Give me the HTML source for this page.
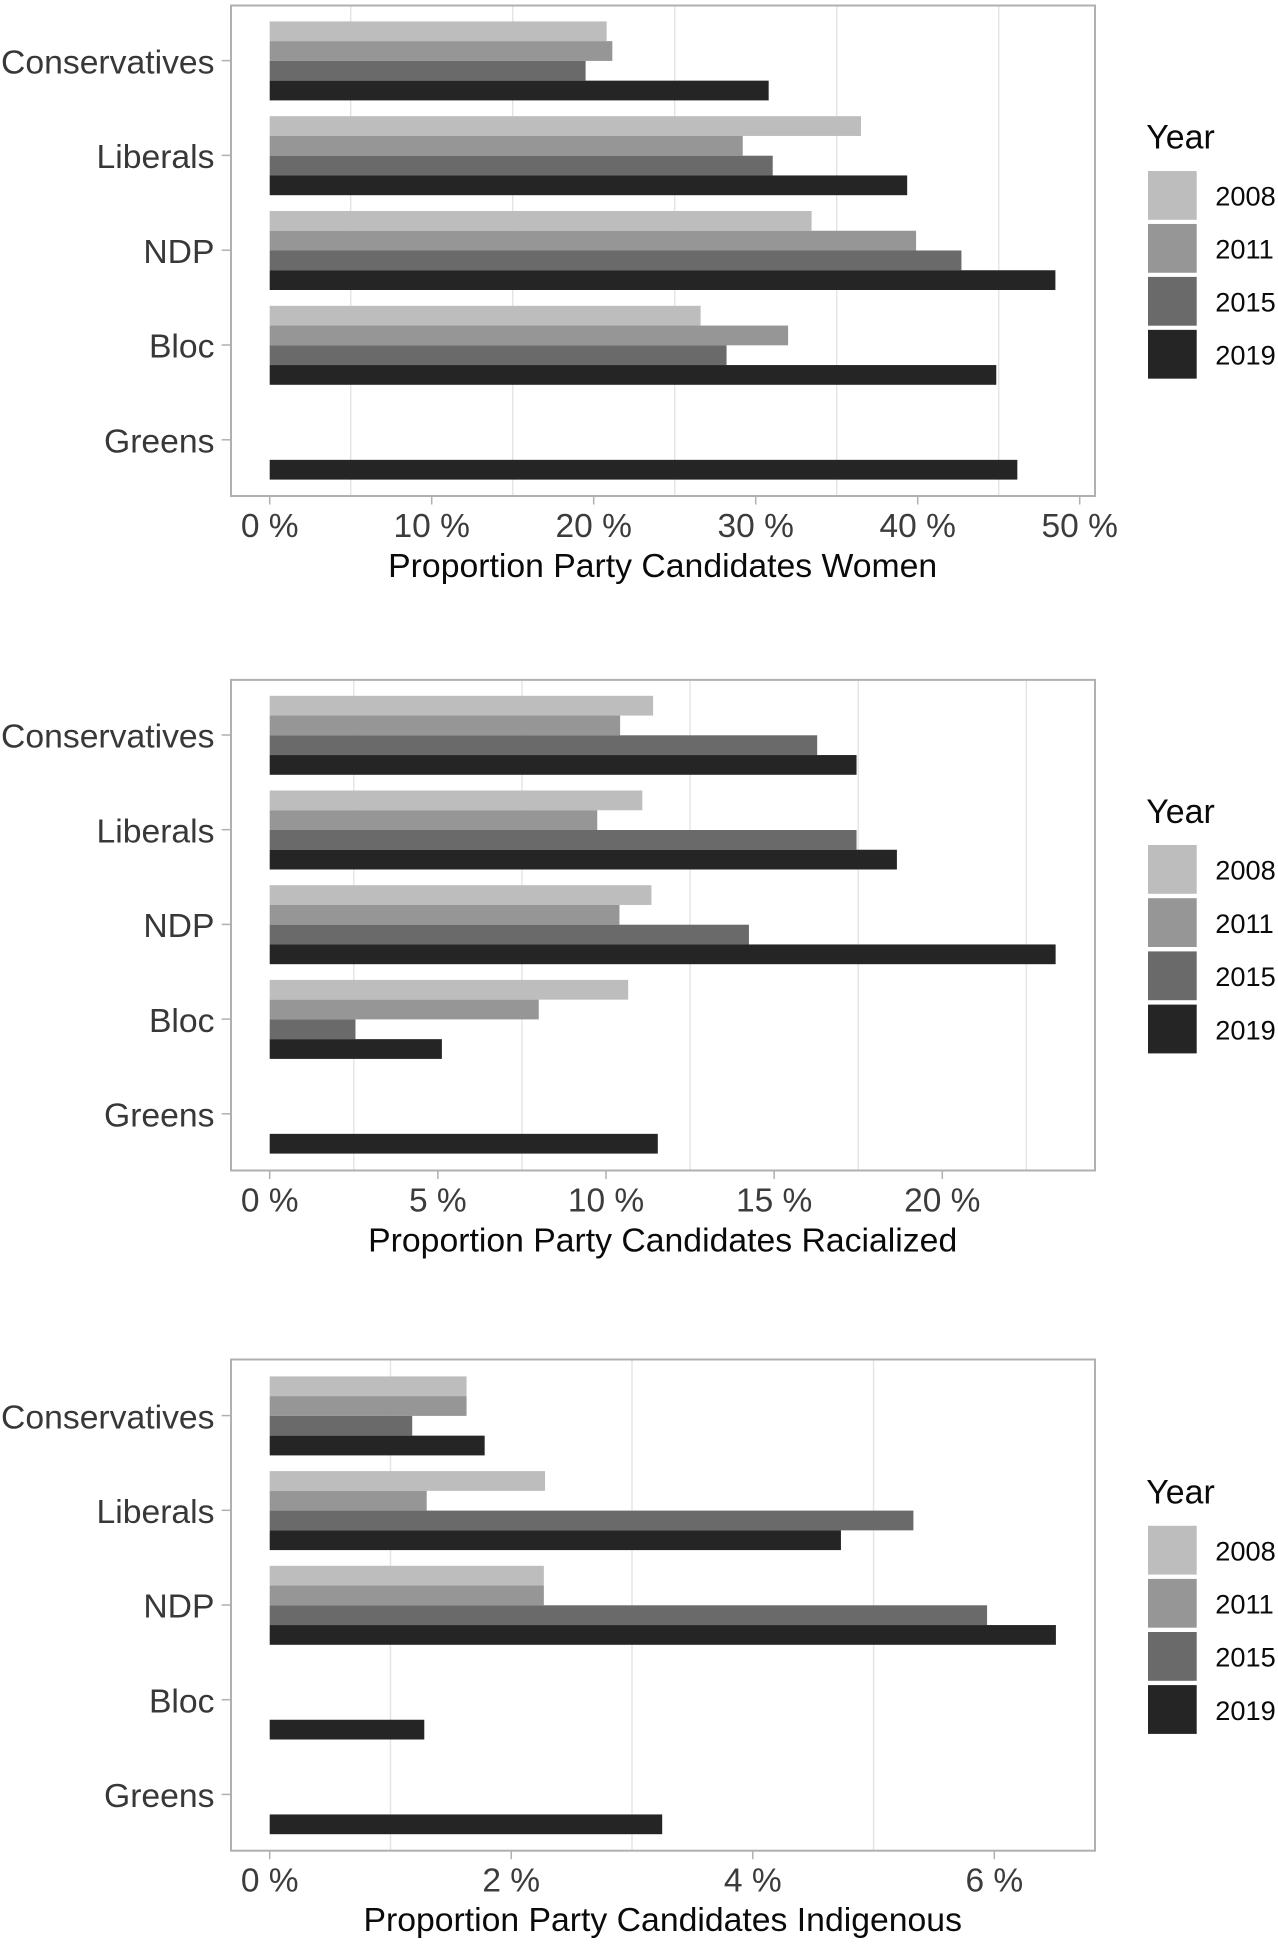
<!DOCTYPE html>
<html lang="en">
<head>
<meta charset="utf-8">
<title>Proportion of party candidates by group</title>
<style>
  html, body { margin: 0; padding: 0; background: #fff; }
  body { width: 1278px; height: 1947px; overflow: hidden; }
  svg { display: block; font-family: "Liberation Sans", Arial, sans-serif; }
</style>
</head>
<body>
<svg id="figure" xmlns="http://www.w3.org/2000/svg" width="1278" height="1947" viewBox="0 0 1278 1947"></svg>
<script>
const categories = ['Conservatives', 'Liberals', 'NDP', 'Bloc', 'Greens'];
const years = ['2008', '2011', '2015', '2019'];
const yearColors = ['#bdbdbd', '#969696', '#6a6a6a', '#252525'];

const women2008 = [20.8, 36.5, 33.45, 26.6, null];
const women2011 = [21.15, 29.2, 39.9, 32.0, null];
const women2015 = [19.5, 31.05, 42.7, 28.2, null];
const women2019 = [30.8, 39.35, 48.5, 44.85, 46.15];
const womenTicks = [0, 10, 20, 30, 40, 50];
const womenTickLabels = ['0 %', '10 %', '20 %', '30 %', '40 %', '50 %'];
const womenGrid = [5, 15, 25, 35, 45];

const racialized2008 = [11.4, 11.08, 11.35, 10.66, null];
const racialized2011 = [10.42, 9.74, 10.4, 8.0, null];
const racialized2015 = [16.28, 17.45, 14.25, 2.55, null];
const racialized2019 = [17.45, 18.65, 23.37, 5.12, 11.54];
const racializedTicks = [0, 5, 10, 15, 20];
const racializedTickLabels = ['0 %', '5 %', '10 %', '15 %', '20 %'];
const racializedGrid = [2.5, 7.5, 12.5, 17.5, 22.5];

const indigenous2008 = [1.63, 2.28, 2.27, null, null];
const indigenous2011 = [1.63, 1.3, 2.27, null, null];
const indigenous2015 = [1.18, 5.33, 5.94, null, null];
const indigenous2019 = [1.78, 4.73, 6.51, 1.28, 3.25];
const indigenousTicks = [0, 2, 4, 6];
const indigenousTickLabels = ['0 %', '2 %', '4 %', '6 %'];
const indigenousGrid = [1, 3, 5];

const panels = [
  { key: 'women', title: 'Proportion Party Candidates Women',
    series: [women2008, women2011, women2015, women2019],
    ticks: womenTicks, tickLabels: womenTickLabels, grid: womenGrid,
    pxPerUnit: 16.2, top: 5, bottom: 496, firstCenter: 60.9, step: 94.8,
    legendTitleY: 148.5, legendKeyY: 171, legendStep: 52.95, tickBase: 537, titleBase: 577 },
  { key: 'racialized', title: 'Proportion Party Candidates Racialized',
    series: [racialized2008, racialized2011, racialized2015, racialized2019],
    ticks: racializedTicks, tickLabels: racializedTickLabels, grid: racializedGrid,
    pxPerUnit: 33.63, top: 679.4, bottom: 1170.5, firstCenter: 735.3, step: 94.7,
    legendTitleY: 822.9, legendKeyY: 845, legendStep: 53.2, tickBase: 1211.5, titleBase: 1251.7 },
  { key: 'indigenous', title: 'Proportion Party Candidates Indigenous',
    series: [indigenous2008, indigenous2011, indigenous2015, indigenous2019],
    ticks: indigenousTicks, tickLabels: indigenousTickLabels, grid: indigenousGrid,
    pxPerUnit: 120.77, top: 1359, bottom: 1850.7, firstCenter: 1415.9, step: 94.7,
    legendTitleY: 1503.4, legendKeyY: 1525.8, legendStep: 53.1, tickBase: 1891.7, titleBase: 1931.2 }
];

const NS = 'http://www.w3.org/2000/svg';
const figure = document.getElementById('figure');
const plotLeft = 231;
const plotRight = 1095;
const zeroX = 269.7;
const barBand = 79;
const frameColor = '#b0b0b0';

function make(tag, attrs, parent) {
  const node = document.createElementNS(NS, tag);
  Object.keys(attrs).forEach(function (k) { node.setAttribute(k, attrs[k]); });
  parent.appendChild(node);
  return node;
}

panels.forEach(function (panel) {
  const xScale = function (v) { return zeroX + v * panel.pxPerUnit; };
  const yCenter = function (i) { return panel.firstCenter + i * panel.step; };
  const barHeight = barBand / years.length;

  const g = make('g', {}, figure);
  
  

  panel.grid.forEach(function (v) {
    const line = make('line', { x1: xScale(v), x2: xScale(v), y1: panel.top, y2: panel.bottom, stroke: '#e4e4e4', 'stroke-width': 1.4 }, g);
    
    
  });

  categories.forEach(function (cat, c) {
    years.forEach(function (year, s) {
      const value = panel.series[s][c];
      if (value === null) return;
      const rect = make('rect', {
        x: xScale(0),
        y: yCenter(c) - barBand / 2 + s * barHeight,
        width: xScale(value) - xScale(0),
        height: barHeight,
        fill: yearColors[s]
      }, g);
      
      
    });

    const tick = make('line', { x1: 221.6, x2: plotLeft, y1: yCenter(c) - 0.3, y2: yCenter(c) - 0.3, stroke: frameColor, 'stroke-width': 1.5 }, g);
    
    

    const label = make('text', { x: 214.5, y: yCenter(c) + 12.4, 'text-anchor': 'end', 'font-size': 33.7, fill: '#383838' }, g);
    label.textContent = cat;
    
    
  });

  const frame = make('rect', { x: plotLeft, y: panel.top + 0.5, width: plotRight - plotLeft, height: panel.bottom - panel.top - 0.5, fill: 'none', stroke: frameColor, 'stroke-width': 2 }, g);
  
  

  panel.ticks.forEach(function (v, i) {
    const tick = make('line', { x1: xScale(v), x2: xScale(v), y1: panel.bottom, y2: panel.bottom + 8.5, stroke: frameColor, 'stroke-width': 1.5 }, g);
    
    

    const label = make('text', { x: xScale(v), y: panel.tickBase, 'text-anchor': 'middle', 'font-size': 33.5, fill: '#3c3c3c' }, g);
    label.textContent = panel.tickLabels[i];
    
    
  });

  const axisTitle = make('text', { x: 662.7, y: panel.titleBase, 'text-anchor': 'middle', 'font-size': 33.75, fill: '#0a0a0a' }, g);
  axisTitle.textContent = panel.title;
  
  

  const legend = make('g', {}, g);
  
  

  const legendTitle = make('text', { x: 1146.3, y: panel.legendTitleY, 'font-size': 33.9, fill: '#0a0a0a' }, legend);
  legendTitle.textContent = 'Year';
  
  

  years.forEach(function (year, s) {
    const keyY = panel.legendKeyY + s * panel.legendStep;
    const key = make('rect', { x: 1148, y: keyY, width: 48.7, height: 48.8, fill: yearColors[s] }, legend);
    
    

    const keyLabel = make('text', { x: 1215.3, y: keyY + 34.7, 'font-size': 27.2, fill: '#0a0a0a' }, legend);
    keyLabel.textContent = year;
    
    
  });
});
</script>
</body>
</html>
